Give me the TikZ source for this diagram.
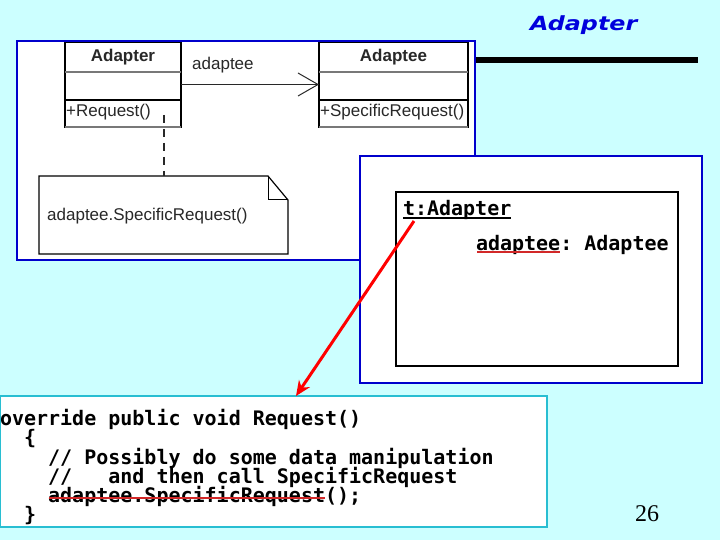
\documentclass[tikz,border=0pt]{standalone}
\usepackage{fontspec}
\setmainfont{Liberation Serif}
\newfontfamily\umlfont{Liberation Sans}
\newfontfamily\codefont{DejaVu Sans Mono}
\newfontfamily\titlefont[FakeStretch=1.22]{DejaVu Sans}
\usetikzlibrary{arrows.meta,calc}
\definecolor{bgcyan}{RGB}{204,255,255}
\definecolor{frameblue}{RGB}{0,0,204}
\definecolor{titleblue}{RGB}{0,0,220}
\definecolor{codeframe}{RGB}{40,190,210}
\definecolor{umlgray}{RGB}{40,40,40}
\definecolor{sepgray}{RGB}{120,120,120}
\definecolor{strikered}{RGB}{210,40,40}
\tikzset{
  frame/.style={draw=frameblue, line width=2pt, fill=white, inner sep=0pt, outer sep=0pt, anchor=north west},
  umlbox/.style={draw=black, line width=1.2pt, fill=white, inner sep=0pt, outer sep=0pt, anchor=north west},
  umltext/.style={font=\umlfont\fontsize{17}{17}\selectfont, text=umlgray, inner sep=0pt, anchor=base west},
  umlhead/.style={font=\umlfont\bfseries\fontsize{17}{17}\selectfont, text=umlgray, inner sep=0pt, anchor=base},
  codetext/.style={font=\codefont\bfseries\fontsize{20}{20}\selectfont\frenchspacing, inner sep=0pt, outer sep=0pt, anchor=base west},
  sepline/.style={draw=sepgray, line width=2.5pt},
  assoc/.style={draw=umlgray, line width=1pt, -{Straight Barb[length=20pt,width=23pt,line width=1pt]}},
  notelink/.style={draw=umlgray, line width=2pt, dash pattern=on 8pt off 6pt},
  redarrow/.style={draw=red, line width=3pt, -{Stealth[length=15pt,width=13pt]}},
}
\begin{document}
\begin{tikzpicture}[x=1pt,y=-1pt]
\useasboundingbox (0,0) rectangle (720,540);
\fill[bgcyan] (0,0) rectangle (720,540);

% title and rule
\node[font=\titlefont\bfseries\itshape\fontsize{19.5}{19.5}\selectfont, text=titleblue, inner sep=0pt, anchor=base west] (title) at (530,31) {Adapter};
\draw[line width=6pt] (476,60) -- (698,60);

% UML frame
\node[frame, minimum width=458pt, minimum height=219pt] (frameA) at (17,41) {};

\node[umlbox, minimum width=116pt, minimum height=85pt] (adapter) at (65,42) {};
\node[umlbox, minimum width=149pt, minimum height=85pt] (adaptee) at (319,42) {};
\draw[sepline] (65,72) -- (181,72);
\draw[sepline] (319,72) -- (468,72);
\draw[black, line width=1.5pt] (65,100) -- (181,100);
\draw[black, line width=1.5pt] (319,100) -- (468,100);
\draw[sepline] (65,127) -- (181,127);
\draw[sepline] (319,127) -- (468,127);
\draw[frameblue, line width=2pt] (17,41) -- (475,41);

\node[umlhead] (adapterName) at (123,62) {Adapter};
\node[umlhead] (adapteeName) at (393.5,62) {Adaptee};
\node[umltext] (req) at (66,117) {+Request()};
\node[umltext] (sreq) at (320,117) {+SpecificRequest()};

\draw[assoc] (adapter.east) -- (adaptee.west);
\node[umltext] (role) at (192,70) {adaptee};

% note
\node[inner sep=0pt, outer sep=0pt, minimum width=249pt, minimum height=78pt, anchor=north west] (note) at (39,176) {};
\draw[black, line width=1.2pt, fill=white] (note.north west) -- ($(note.north east)+(-20,0)$) -- ($(note.north east)+(0,24)$) -- (note.south east) -- (note.south west) -- cycle;
\draw[black, line width=1pt] ($(note.north east)+(-20,0)$) -- ($(note.north east)+(-20,24)$) -- ($(note.north east)+(0,24)$);
\node[umltext] (noteText) at (47,221) {adaptee.SpecificRequest()};
\coordinate (dashstart) at (163.5,115);
\draw[notelink] (dashstart) -- (note.north);

% object frame
\node[frame, minimum width=342pt, minimum height=227pt] (frameB) at (360,156) {};
\node[draw=black, line width=2pt, fill=white, inner sep=0pt, outer sep=0pt, anchor=north west, minimum width=282pt, minimum height=174pt] (obj) at (396,192) {};
\node[codetext] (objName) at (403,215.5) {t:Adapter};
\draw[black, line width=1.5pt] ([yshift=-2.5pt]objName.base west) -- ([yshift=-2.5pt]objName.base east);
\node[codetext] (attr) at (476,250) {adaptee};
\node[codetext] (attrType) at (attr.base east) {: Adaptee};
\draw[strikered, line width=2pt] ([xshift=1pt,yshift=-2pt]attr.base west) -- ([yshift=-2pt]attr.base east);

% code box
\node[draw=codeframe, line width=2pt, fill=white, inner sep=0pt, outer sep=0pt, anchor=north west, minimum width=547pt, minimum height=131pt] (code) at (0,396) {};
\node[codetext] (c1) at (0,425.5) {override public void Request()};
\node[codetext] (c2) at (24.08,444.8) {\{};
\node[codetext] (c3) at (48.16,464) {// Possibly do some data manipulation};
\node[codetext] (c4) at (48.16,483.3) {//\ \ \ and then call SpecificRequest};
\node[codetext] (c5) at (48.16,502.5) {adaptee.SpecificRequest};
\node[codetext] (c5b) at (c5.base east) {();};
\node[codetext] (c6) at (24.08,521.8) {\}};
\draw[strikered, line width=2pt] ([xshift=1pt,yshift=4.8pt]c5.base west) -- ([yshift=4.8pt]c5.base east);

% red arrow
\coordinate (tref) at (414,221);
\coordinate (tip) at (296,396);
\draw[redarrow] (tref) -- (tip);

% page number
\node[font=\fontsize{24}{24}\selectfont, inner sep=0pt, anchor=base west] (pg) at (635,521) {26};
\end{tikzpicture}
\end{document}
